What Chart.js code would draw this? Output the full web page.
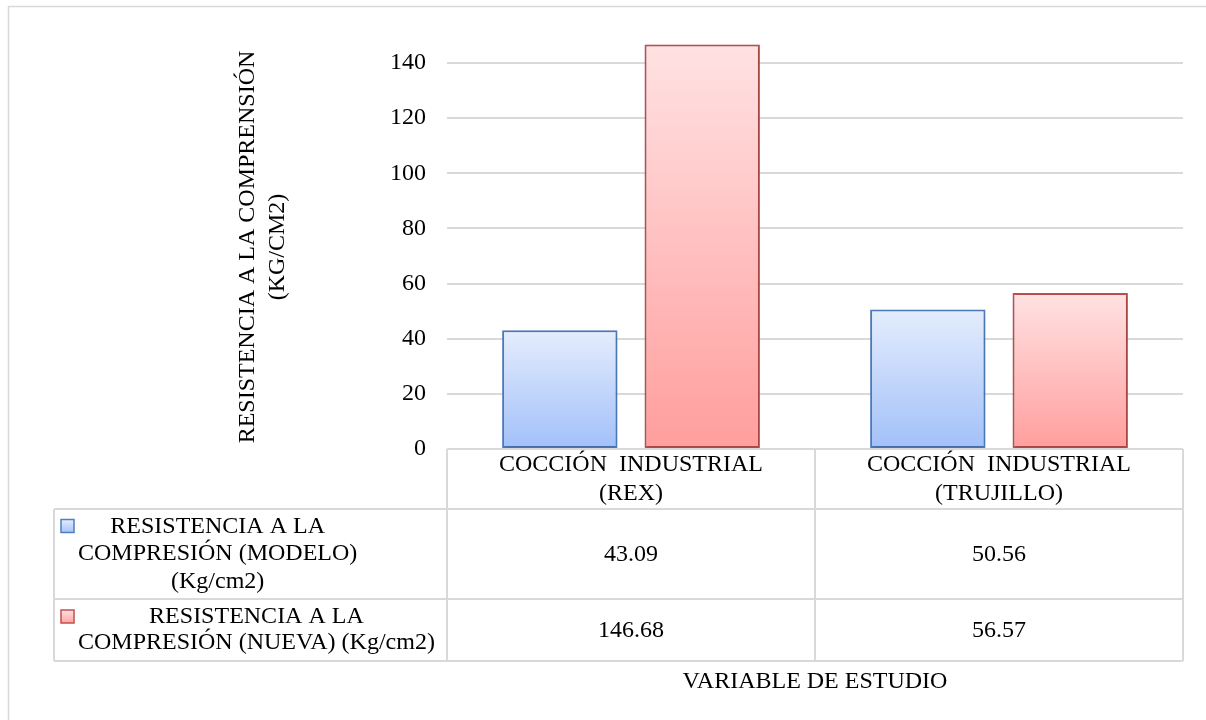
<!DOCTYPE html>
<html>
<head>
<meta charset="utf-8">
<script src="https://cdn.jsdelivr.net/npm/chart.js@4.4.1/dist/chart.umd.min.js"></script>
<style>
  html, body { margin: 0; padding: 0; background: #ffffff; }
  #wrap { position: relative; width: 1206px; height: 720px; }
</style>
</head>
<body>
<div id="wrap"><canvas id="c" width="1206" height="720"></canvas></div>
<script>
// Categories (each a list of text lines) and series
const categories = [
  ['COCCIÓN  INDUSTRIAL', '(REX)'],
  ['COCCIÓN  INDUSTRIAL', '(TRUJILLO)']
];
const seriesNames = [
  ['RESISTENCIA A LA', 'COMPRESIÓN (MODELO)', '(Kg/cm2)'],
  ['RESISTENCIA A LA', 'COMPRESIÓN (NUEVA) (Kg/cm2)']
];
const modeloValues = [43.09, 50.56];
const nuevaValues = [146.68, 56.57];
const yTicks = [0, 20, 40, 60, 80, 100, 120, 140];
const yTitle = ['RESISTENCIA A LA COMPRENSIÓN', '(KG/CM2)'];
const xTitle = 'VARIABLE DE ESTUDIO';

const FONT = 'Liberation Serif';
const FS = 24;
const GRID = '#d9d9d9';

const palettes = [
  { top: '#e4edfd', bottom: '#a2c0f9', border: '#4f7fc1' },
  { top: '#ffe2e3', bottom: '#ff9e9d', border: '#c0504d' }
];

function barGradient(pal) {
  return (ctx) => {
    const chart = ctx.chart;
    if (!chart.chartArea || ctx.type !== 'data') return pal.bottom;
    const y = chart.scales.y;
    const top = y.getPixelForValue(ctx.raw);
    const base = y.getPixelForValue(0);
    const g = chart.ctx.createLinearGradient(0, top, 0, base);
    g.addColorStop(0, pal.top);
    g.addColorStop(1, pal.bottom);
    return g;
  };
}

// Soft shadow behind the bars
const barShadow = {
  id: 'barShadow',
  beforeDatasetsDraw(chart) {
    const c = chart.ctx;
    c.save();
    c.shadowColor = 'rgba(0,0,0,0.22)';
    c.shadowBlur = 4;
    c.shadowOffsetX = 1;
    c.shadowOffsetY = 1;
  },
  afterDatasetsDraw(chart) {
    chart.ctx.restore();
  }
};

// Frame, rotated y title, data table under the plot and the x-axis title
const dataTable = {
  id: 'dataTable',
  afterDraw(chart) {
    const c = chart.ctx;
    const xs = chart.scales.x;
    const area = chart.chartArea;
    const n = categories.length;
    const catW = (xs.right - xs.left) / n;
    const tableLeft = 54;
    const rowY = [area.bottom, 509, 599, 661];

    c.save();
    // outer frame (top and left edges)
    c.strokeStyle = GRID;
    c.lineWidth = 1.5;
    c.beginPath();
    c.moveTo(8, 6.5); c.lineTo(1206, 6.5);
    c.moveTo(8.5, 6); c.lineTo(8.5, 720);
    c.stroke();

    // table grid
    c.lineWidth = 2;
    c.beginPath();
    c.moveTo(xs.left, rowY[0]); c.lineTo(xs.right, rowY[0]);
    for (let r = 1; r < rowY.length; r++) {
      c.moveTo(tableLeft, rowY[r]); c.lineTo(xs.right, rowY[r]);
    }
    c.moveTo(tableLeft, rowY[1]); c.lineTo(tableLeft, rowY[3]);
    for (let i = 0; i <= n; i++) {
      const x = xs.left + i * catW;
      c.moveTo(x, rowY[0]); c.lineTo(x, rowY[3]);
    }
    c.stroke();

    c.fillStyle = '#000000';
    c.font = FS + 'px ' + FONT;
    c.textBaseline = 'middle';
    c.textAlign = 'center';

    // rotated y-axis title, two lines
    c.save();
    c.translate(248, 247);
    c.rotate(-Math.PI / 2);
    yTitle.forEach((t, k) => c.fillText(t, 0, k * 30));
    c.restore();

    // header: category names
    categories.forEach((lines, i) => {
      const cx = xs.left + (i + 0.5) * catW;
      const cy = (rowY[0] + rowY[1]) / 2;
      const lh = 29;
      lines.forEach((t, k) => {
        c.fillText(t, cx, cy + (k - (lines.length - 1) / 2) * lh);
      });
    });

    // series rows: legend key, name, values
    const values = [modeloValues, nuevaValues];
    seriesNames.forEach((lines, s) => {
      const y0 = rowY[s + 1], y1 = rowY[s + 2];
      const cy = (y0 + y1) / 2;
      const lh = s === 0 ? 27.5 : 26;
      const firstY = cy - (lines.length - 1) / 2 * lh;
      // legend key
      const pal = palettes[s];
      const kg = c.createLinearGradient(0, firstY - 7, 0, firstY + 7);
      kg.addColorStop(0, pal.top);
      kg.addColorStop(1, pal.bottom);
      c.fillStyle = kg;
      c.fillRect(61, firstY - 7, 13, 13);
      c.strokeStyle = pal.border;
      c.lineWidth = 1.5;
      c.strokeRect(61, firstY - 7, 13, 13);
      // name block: left edge fixed, lines centred within the block
      c.fillStyle = '#000000';
      const blockW = Math.max(...lines.map(t => c.measureText(t).width));
      const bx = 78 + blockW / 2;
      lines.forEach((t, k) => c.fillText(t, bx, firstY + k * lh));
      // values
      values[s].forEach((v, i) => {
        const cx = xs.left + (i + 0.5) * catW;
        c.fillText(v.toFixed(2), cx, cy + 1);
      });
    });

    // x-axis title
    c.fillText(xTitle, (xs.left + xs.right) / 2, 682);
    c.restore();
  }
};

new Chart(document.getElementById('c'), {
  type: 'bar',
  data: {
    labels: categories.map(l => l.join(' ')),
    datasets: [
      {
        label: seriesNames[0].join(' '),
        data: modeloValues,
        backgroundColor: barGradient(palettes[0]),
        borderColor: palettes[0].border,
        borderWidth: 2,
        borderSkipped: false
      },
      {
        label: seriesNames[1].join(' '),
        data: nuevaValues,
        backgroundColor: barGradient(palettes[1]),
        borderColor: palettes[1].border,
        borderWidth: 2,
        borderSkipped: false
      }
    ]
  },
  options: {
    responsive: false,
    animation: false,
    devicePixelRatio: 1,
    categoryPercentage: 0.774,
    barPercentage: 0.81,
    layout: { padding: { left: 0, right: 23, top: 35, bottom: 271 } },
    plugins: {
      legend: { display: false },
      tooltip: { enabled: false }
    },
    scales: {
      x: {
        ticks: { display: false },
        grid: { display: false },
        border: { display: false },
        afterFit(scale) { scale.height = 0; }
      },
      y: {
        min: 0,
        max: 150,
        afterBuildTicks(scale) {
          scale.ticks = yTicks.map(v => ({ value: v }));
        },
        ticks: {
          padding: 21,
          color: '#000000',
          font: { family: FONT, size: FS }
        },
        grid: { color: GRID, lineWidth: 2, drawTicks: false },
        border: { display: false },
        title: { display: false },
        afterFit(scale) { scale.width = 447; }
      }
    }
  },
  plugins: [barShadow, dataTable]
});
</script>
</body>
</html>
